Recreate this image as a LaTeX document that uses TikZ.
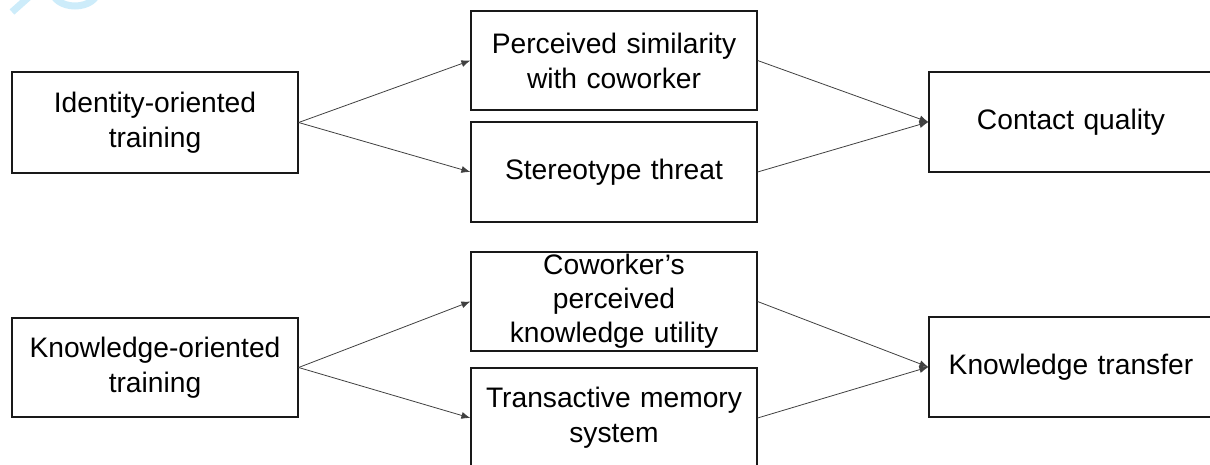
\documentclass[tikz,border=0pt]{standalone}
\usepackage{fontspec}
\setmainfont{Liberation Sans}
\usetikzlibrary{arrows.meta}
\definecolor{wm}{RGB}{205,236,250}
\begin{document}
\begin{tikzpicture}[x=1pt,y=-1pt,
  box/.style={draw=black!90, line width=1.2pt, minimum width=286pt, inner sep=0pt,
    align=center, text width=280pt, font=\fontsize{28.2}{35}\selectfont},
  link/.style={draw=black!75, line width=0.8pt, -{Latex[length=9pt,width=7pt]}}]
\useasboundingbox (0,0) rectangle (1210,464);
\clip (0,0) rectangle (1210,464);
% faint watermark
\draw[wm, line width=7pt] (12,12) -- (30,-4);
\draw[wm, line width=7pt] (52,-10) arc[start angle=180, end angle=360, x radius=23pt, y radius=16pt];
% nodes
\node[box, minimum height=101pt] (ident) at (155,122.5) {Identity-oriented\\training};
\node[box, minimum height=99pt] (know) at (155,367.5) {Knowledge-oriented\\training};
\node[box, minimum height=99pt] (perc) at (614,60.5) {Perceived similarity\\with coworker};
\node[box, minimum height=100pt] (ster) at (614,172) {Stereotype threat};
\node[box, minimum height=99pt, font=\fontsize{28.2}{34}\selectfont] (cow) at (614,301.5) {Coworker’s\\perceived\\knowledge utility};
\node[box, minimum height=100pt] (trans) at (614,418) {Transactive memory\\system};
\node[box, minimum height=100pt, minimum width=284pt] (cont) at (1071,122) {Contact quality};
\node[box, minimum height=100pt, minimum width=284pt] (ktr) at (1071,367) {Knowledge transfer};
% connectors
\draw[link] (ident.east) -- (perc.west);
\draw[link] (ident.east) -- (ster.west);
\draw[link] (perc.east) -- (cont.west);
\draw[link] (ster.east) -- (cont.west);
\draw[link] (know.east) -- (cow.west);
\draw[link] (know.east) -- (trans.west);
\draw[link] (cow.east) -- (ktr.west);
\draw[link] (trans.east) -- (ktr.west);
\end{tikzpicture}
\end{document}
